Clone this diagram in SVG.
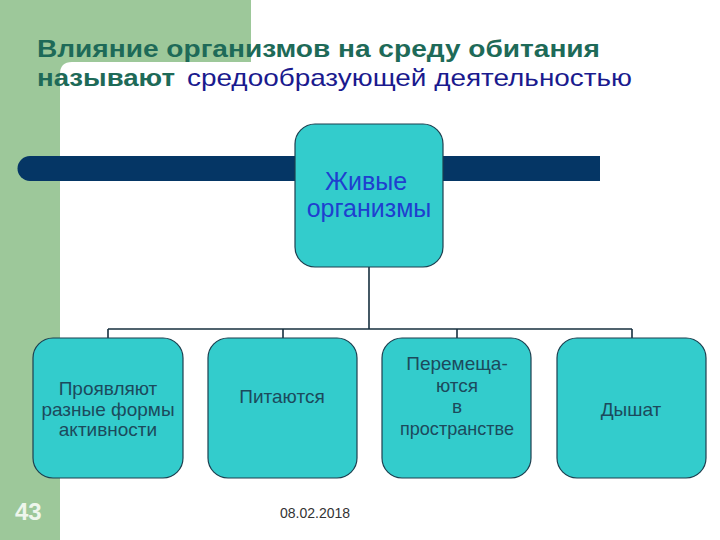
<svg xmlns="http://www.w3.org/2000/svg" width="720" height="540" viewBox="0 0 720 540">
<style>
.node rect{fill:#33CCCC;stroke:#1d3f4f;stroke-width:1.2}
.top text{font-family:"Liberation Sans",Arial,sans-serif;font-size:25px;fill:#1f3fcf;text-anchor:middle}
.sub text{font-family:"Liberation Sans",Arial,sans-serif;font-size:19px;fill:#1c4a5c;text-anchor:middle}
.conn{fill:none;stroke:#17303f;stroke-width:1.6}
.title{font-family:"Liberation Sans",Arial,sans-serif;font-size:24px}
</style>
<rect x="0" y="0" width="720" height="540" fill="#ffffff"/>
<path d="M0 0 H251 V62 H72 Q60 62 60 74 V540 H0 Z" fill="#9dc89a"/>
<path d="M30 156 H600 V181 H30 A12.5 12.5 0 0 1 30 156 Z" fill="#053665"/>
<text class="title" x="37" y="57" font-weight="bold" fill="#1e6a58" textLength="563" lengthAdjust="spacingAndGlyphs">Влияние организмов на среду обитания</text>
<text class="title" x="37" y="86" font-weight="bold" fill="#1e6a58" textLength="138" lengthAdjust="spacingAndGlyphs">называют</text>
<text class="title" x="187" y="86" fill="#1a1a8e" textLength="445" lengthAdjust="spacingAndGlyphs">средообразующей деятельностью</text>
<g id="connectors">
<path class="conn" d="M369 267 V329 M108 329 H632 M108 329 V338 M283 329 V338 M457 329 V338 M632 329 V338"/>
</g>
<g id="node-top" class="node top">
<rect x="295" y="124" width="148" height="143" rx="20"/>
<text x="366" y="190">Живые</text>
<text x="369" y="217">организмы</text>
</g>
<g id="node-1" class="node sub">
<rect x="33" y="338" width="150" height="140" rx="20"/>
<text x="108" y="395">Проявляют</text>
<text x="108" y="416">разные формы</text>
<text x="108" y="436">активности</text>
</g>
<g id="node-2" class="node sub">
<rect x="208" y="338" width="149" height="140" rx="20"/>
<text x="282" y="403">Питаются</text>
</g>
<g id="node-3" class="node sub">
<rect x="382" y="338" width="149" height="140" rx="20"/>
<text x="457" y="370">Перемеща-</text>
<text x="457" y="392">ются</text>
<text x="457" y="413">в</text>
<text x="457" y="435" textLength="114" lengthAdjust="spacingAndGlyphs">пространстве</text>
</g>
<g id="node-4" class="node sub">
<rect x="557" y="338" width="149" height="140" rx="20"/>
<text x="631" y="416">Дышат</text>
</g>
<text x="15" y="520" font-family="'Liberation Sans',Arial,sans-serif" font-size="24" font-weight="bold" fill="#eef6ec">43</text>
<text x="280" y="518" font-family="'Liberation Sans',Arial,sans-serif" font-size="14" fill="#333333">08.02.2018</text>
</svg>
